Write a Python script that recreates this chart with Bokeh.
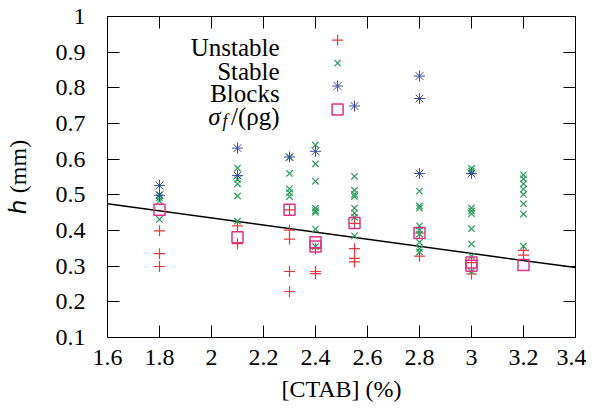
from bokeh.plotting import figure
from bokeh.models import FixedTicker, LinearAxis, Label, Range1d
from bokeh.embed import file_html
from bokeh.resources import INLINE

# ---------------- data ----------------
unstable_x = [1.8, 1.8, 1.8, 2.1, 2.1, 2.3, 2.3, 2.3, 2.3, 2.3, 2.4, 2.4, 2.4,
              2.55, 2.55, 2.55, 2.55, 2.8, 2.8, 3.0, 3.0, 3.2, 3.2]
unstable_y = [0.399, 0.335, 0.299, 0.413, 0.363, 0.458, 0.401, 0.376, 0.285, 0.229,
              0.349, 0.285, 0.279, 0.420, 0.349, 0.322, 0.312, 0.393, 0.328,
              0.310, 0.278, 0.344, 0.331]

stable_x = ([1.8] * 4 + [2.1] * 5 + [2.3] * 5 + [2.4] * 8 + [2.55] * 8 +
            [2.8] * 9 + [3.0] * 9 + [3.2] * 8)
stable_y = [0.500, 0.492, 0.483, 0.431,
            0.575, 0.543, 0.531, 0.497, 0.426,
            0.605, 0.560, 0.517, 0.506, 0.495,
            0.640, 0.587, 0.538, 0.463, 0.456, 0.451, 0.404, 0.355,
            0.552, 0.513, 0.501, 0.495, 0.463, 0.449, 0.437, 0.385,
            0.510, 0.469, 0.463, 0.413, 0.401, 0.390, 0.367, 0.349, 0.340,
            0.574, 0.567, 0.463, 0.455, 0.447, 0.405, 0.362, 0.328, 0.285,
            0.556, 0.545, 0.531, 0.516, 0.501, 0.475, 0.446, 0.356]

blocks_x = [1.8, 1.8, 2.1, 2.1, 2.3, 2.4, 2.55, 2.8, 2.8, 2.8, 3.0]
blocks_y = [0.526, 0.499, 0.631, 0.554, 0.606, 0.622, 0.749, 0.833, 0.770, 0.560, 0.560]

sigma_x = [1.8, 2.1, 2.3, 2.4, 2.4, 2.55, 2.8, 3.0, 3.0, 3.2]
sigma_y = [0.458, 0.381, 0.458, 0.367, 0.355, 0.421, 0.393, 0.310, 0.301, 0.303]

fit_x = [1.6, 3.4]
fit_y = [0.475, 0.296]

x_ticks = [1.6, 1.8, 2.0, 2.2, 2.4, 2.6, 2.8, 3.0, 3.2, 3.4]
x_tick_labels = ["1.6", "1.8", "2", "2.2", "2.4", "2.6", "2.8", "3", "3.2", "3.4"]
y_ticks = [0.1, 0.2, 0.3, 0.4, 0.5, 0.6, 0.7, 0.8, 0.9, 1.0]
y_tick_labels = ["0.1", "0.2", "0.3", "0.4", "0.5", "0.6", "0.7", "0.8", "0.9", "1"]

legend_names = ["Unstable", "Stable", "Blocks"]
x_title = "[CTAB] (%)"
y_title = "ℎ (mm)"

# ---------------- style ----------------
FONT = "Liberation Serif"
FS = "24px"
FS_LEG = "25px"
RED = "#e8383d"
GREEN = "#2a9d5a"
BLUE = "#3a4aa8"
MAGENTA = "#e0308a"

p = figure(width=586, height=404, output_backend="svg", toolbar_location=None,
           x_range=Range1d(1.6, 3.4), y_range=Range1d(0.1, 1.0),
           min_border_left=107, min_border_right=11, min_border_top=16,
           min_border_bottom=58)
p.background_fill_color = "white"
p.border_fill_color = "white"
p.grid.visible = False
p.outline_line_color = "black"
p.outline_line_width = 1

for ax, ticks, labels in ((p.xaxis[0], x_ticks, x_tick_labels),
                          (p.yaxis[0], y_ticks, y_tick_labels)):
    ax.ticker = FixedTicker(ticks=ticks)
    ax.major_label_overrides = {t: l for t, l in zip(ticks, labels)}
    ax.major_tick_in = 12
    ax.major_tick_out = 0
    ax.minor_tick_line_color = None
    ax.axis_line_color = "black"
    ax.major_tick_line_color = "black"
    ax.major_label_text_font = FONT
    ax.major_label_text_font_size = FS
    ax.major_label_text_color = "black"
    ax.axis_label_text_font = FONT
    ax.axis_label_text_font_size = FS
    ax.axis_label_text_font_style = "normal"
    ax.axis_label_text_color = "black"
p.xaxis.major_label_text_line_height = 0.8
p.xaxis.axis_label_text_line_height = 0.8
p.yaxis.major_label_text_line_height = 1.0
p.yaxis.axis_label_text_line_height = 1.0
p.xaxis.axis_label = x_title
p.yaxis.axis_label = y_title
p.xaxis.major_label_standoff = 12
p.xaxis.axis_label_standoff = 8
p.yaxis.major_label_standoff = 22
p.yaxis.axis_label_standoff = 22

for ticks, loc in ((x_ticks, "above"), (y_ticks, "right")):
    ax = LinearAxis(ticker=FixedTicker(ticks=ticks))
    ax.major_label_overrides = {t: "" for t in ticks}
    ax.major_label_text_font_size = "1px"
    ax.major_label_standoff = 0
    ax.major_tick_in = 12
    ax.major_tick_out = 0
    ax.minor_tick_line_color = None
    ax.axis_line_color = "black"
    p.add_layout(ax, loc)

# fit line
p.line(fit_x, fit_y, line_color="black", line_width=1.5)

# data markers
p.scatter(unstable_x, unstable_y, marker="cross", size=11, line_color=RED, line_width=1.2)
p.scatter(stable_x, stable_y, marker="x", size=9, line_color=GREEN, line_width=1.2)
p.scatter(blocks_x, blocks_y, marker="asterisk", size=11, line_color=BLUE, line_width=1.0)
p.scatter(sigma_x, sigma_y, marker="square", size=11, fill_color=None,
          line_color=MAGENTA, line_width=1.5)

# legend (gnuplot style: text right-aligned, symbol on the right)
leg_sym_x = 2.485
leg_txt_x = 2.262
leg_sym_y = [0.934, 0.869, 0.805, 0.739]
leg_base_y = [0.914, 0.847, 0.783, 0.720]
p.scatter([leg_sym_x], [leg_sym_y[0]], marker="cross", size=11, line_color=RED, line_width=1.2)
p.scatter([leg_sym_x], [leg_sym_y[1]], marker="x", size=9, line_color=GREEN, line_width=1.2)
p.scatter([leg_sym_x], [leg_sym_y[2]], marker="asterisk", size=11, line_color=BLUE, line_width=1.0)
p.scatter([leg_sym_x], [leg_sym_y[3]], marker="square", size=11, fill_color=None,
          line_color=MAGENTA, line_width=1.5)
for name, yb in zip(legend_names, leg_base_y):
    p.add_layout(Label(x=leg_txt_x, y=yb, text=name, text_align="right",
                       text_baseline="alphabetic", text_font=FONT, text_font_size=FS_LEG,
                       text_color="black"))
# sigma_f/(rho g)
p.add_layout(Label(x=leg_txt_x, y=leg_base_y[3], text="/(ρg)", text_align="right",
                   text_baseline="alphabetic", text_font=FONT, text_font_size=FS_LEG,
                   text_color="black"))
p.add_layout(Label(x=2.062, y=leg_base_y[3] - 0.014, text="f", text_align="right",
                   text_baseline="alphabetic", text_font=FONT, text_font_size="18px",
                   text_font_style="italic", text_color="black"))
p.add_layout(Label(x=2.035, y=leg_base_y[3], text="σ", text_align="right",
                   text_baseline="alphabetic", text_font=FONT, text_font_size=FS_LEG,
                   text_font_style="italic", text_color="black"))

open("out.html", "w").write(file_html(p, INLINE))
